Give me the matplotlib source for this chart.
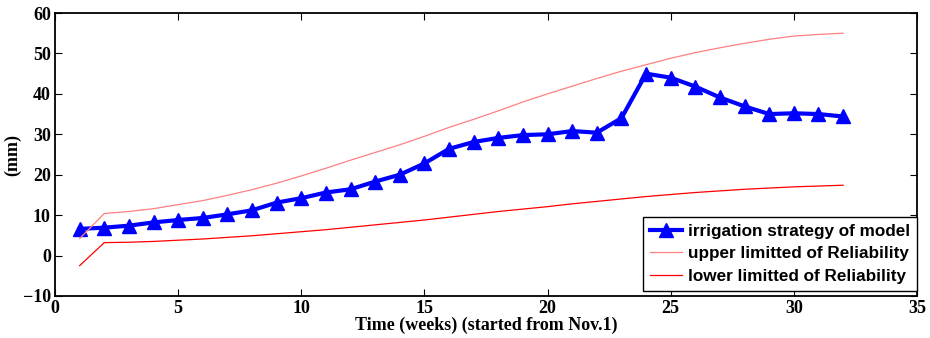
import numpy as np
import matplotlib.pyplot as plt

weeks = list(range(1, 33))
model = [6.6, 6.9, 7.4, 8.2, 8.8, 9.3, 10.2, 11.2, 13.1, 14.2, 15.6, 16.4,
         18.3, 20.0, 22.8, 26.4, 28.1, 29.1, 29.8, 30.0, 30.8, 30.4, 34.0,
         45.0, 44.0, 41.8, 39.1, 36.9, 35.0, 35.2, 35.0, 34.4]
upper = [4.2, 10.4, 10.9, 11.6, 12.6, 13.6, 14.9, 16.3, 17.9, 19.7, 21.6,
         23.6, 25.5, 27.4, 29.5, 31.7, 33.7, 35.8, 38.0, 40.0, 41.9, 43.8,
         45.6, 47.2, 48.8, 50.2, 51.4, 52.5, 53.5, 54.3, 54.7, 55.0]
lower = [-2.5, 3.2, 3.3, 3.5, 3.8, 4.1, 4.5, 4.9, 5.4, 5.9, 6.4, 7.0, 7.6,
         8.2, 8.8, 9.5, 10.2, 10.9, 11.5, 12.1, 12.8, 13.4, 14.0, 14.6, 15.1,
         15.6, 16.0, 16.4, 16.7, 17.0, 17.2, 17.4]

fig = plt.figure(figsize=(9.3, 3.38), dpi=100)
ax = fig.add_axes([55 / 930, 42 / 338, 862 / 930, 283 / 338])

ax.plot(weeks, model, color='#0000ff', lw=3, marker='^', ms=10,
        label='irrigation strategy of model')
ax.plot(weeks, upper, color='#ff8080', lw=0.9,
        label='upper limitted of Reliability')
ax.plot(weeks, lower, color='#ff0000', lw=0.9,
        label='lower limitted of Reliability')

ax.set_xlim(0, 35)
ax.set_ylim(-10, 60)
ax.set_xticks(range(0, 36, 5))
ax.set_yticks(range(-10, 61, 10))
ax.tick_params(direction='in', top=True, right=True, length=5, width=0.8,
               labelsize=13, pad=3)
for lab in ax.get_xticklabels() + ax.get_yticklabels():
    lab.set_fontfamily('Liberation Serif')
    lab.set_fontweight('bold')
for s in ax.spines.values():
    s.set_linewidth(1.3)

ax.set_xlabel('Time (weeks) (started from Nov.1)', fontfamily='Liberation Serif',
              fontweight='bold', fontsize=13, labelpad=0)
ax.set_ylabel('(mm)', fontfamily='Liberation Serif', fontweight='bold',
              fontsize=13, labelpad=1)

leg = ax.legend(loc='lower right', fancybox=False, edgecolor='black',
                framealpha=1, borderaxespad=0, bbox_to_anchor=(1.0, 0.018),
                handlelength=1.9, handletextpad=0.35, labelspacing=0.45,
                borderpad=0.4,
                prop={'family': 'Liberation Sans', 'weight': 'bold', 'size': 12.3})
leg.get_frame().set_linewidth(1.0)

fig.savefig('out.png')
